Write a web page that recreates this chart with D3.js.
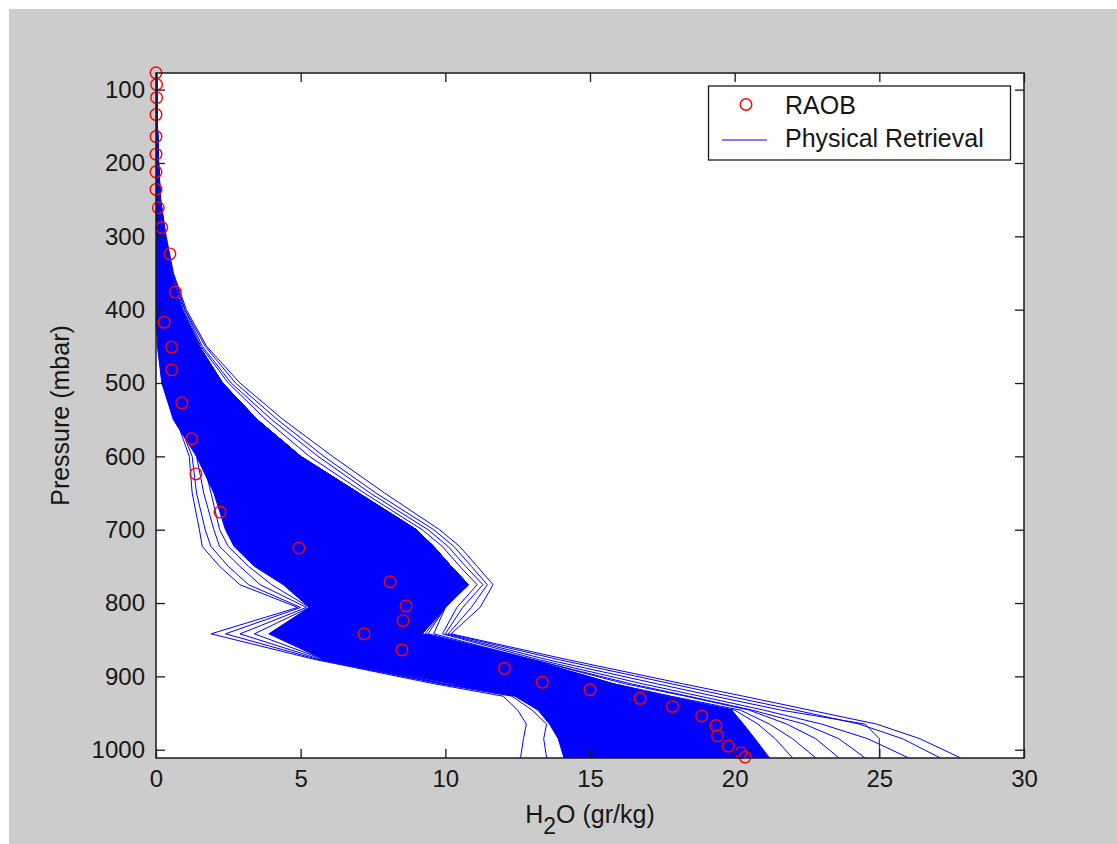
<!DOCTYPE html>
<html>
<head>
<meta charset="utf-8">
<script src="https://cdn.jsdelivr.net/npm/d3@7"></script>
<style>
  body { margin: 0; background: #ffffff; }
  text { font-family: 'Liberation Sans', Arial, sans-serif; fill: #161616; }
</style>
</head>
<body>
<div id="container"></div>
<script>
// pressure levels (mbar) that the retrieved profiles are read on
var levels = [77, 100, 150, 200, 250, 300, 350, 400, 450, 500, 550, 600, 650, 700,
    723, 750, 775, 806, 842, 877, 910, 927, 946, 965, 985, 1011]

// dense part of the retrieval ensemble: left and right edge (gr/kg) at each level
var coreLeft = [0, 0, 0, 0, 0, 0, 0, 0, 0.05, 0.2, 0.6, 1.4, 2.0, 2.4,
    2.7, 3.4, 4.4, 5.3, 3.9, 5.8, 10.2, 12.4, 13.2, 13.6, 13.9, 14.1]
var coreRight = [0.02, 0.03, 0.05, 0.08, 0.14, 0.3, 0.5, 0.9, 1.5, 2.3, 3.5, 5.0, 7.0, 9.0,
    9.6, 10.2, 10.8, 10.0, 9.2, 12.9, 15.8, 17.6, 19.9, 20.3, 20.7, 21.2]

// single retrieval profiles that stand out of the dense band
var retrievals = [
    [0, 0, 0, 0, 0.02, 0.05, 0.08, 0.12, 0.2, 0.35, 0.7, 1.15, 1.25, 1.5, 1.6, 2.2, 2.9, 4.9, 1.9, 5.5, 9.6, 12.0, 12.5, 12.8, 12.7, 12.6],
    [0, 0, 0, 0, 0.02, 0.05, 0.08, 0.12, 0.22, 0.4, 0.75, 1.25, 1.4, 1.7, 1.9, 2.5, 3.2, 5.0, 2.4, 5.6, 9.8, 12.3, 13.0, 13.5, 13.4, 13.5],
    [0, 0, 0, 0, 0.03, 0.06, 0.1, 0.15, 0.25, 0.45, 0.85, 1.4, 1.65, 2.0, 2.2, 2.9, 3.6, 5.2, 2.9, 5.7, 9.9, 12.5, 13.3, 13.8, 14.0, 14.1],
    [0, 0, 0, 0, 0.03, 0.06, 0.1, 0.16, 0.28, 0.5, 0.95, 1.6, 1.9, 2.2, 2.5, 3.2, 4.0, 5.3, 3.4, 5.8, 10.0, 12.5, 13.3, 13.7, 14.0, 14.2],
    [0.02, 0.03, 0.05, 0.09, 0.16, 0.35, 0.6, 1.05, 1.75, 2.9, 4.4, 6.1, 7.9, 9.8, 10.5, 11.1, 11.65, 11.2, 10.2, 14.2, 18.2, 20.3, 22.6, 24.9, 26.4, 27.8],
    [0.02, 0.03, 0.05, 0.09, 0.16, 0.34, 0.58, 1.0, 1.7, 2.75, 4.2, 5.8, 7.6, 9.6, 10.3, 10.9, 11.45, 10.9, 10.1, 13.9, 17.8, 19.8, 22.1, 24.3, 25.8, 27.1],
    [0.02, 0.03, 0.05, 0.09, 0.15, 0.33, 0.56, 1.0, 1.6, 2.6, 4.0, 5.6, 7.4, 9.4, 10.1, 10.7, 11.3, 10.6, 10.0, 13.5, 17.3, 19.3, 21.6, 24.5, 25.0, 25.0],
    [0.02, 0.03, 0.05, 0.09, 0.15, 0.32, 0.54, 0.95, 1.55, 2.5, 3.8, 5.3, 7.2, 9.2, 9.9, 10.5, 11.1, 10.4, 9.9, 13.2, 16.8, 18.8, 21.0, 23.0, 24.6, 26.0],
    [0.02, 0.03, 0.05, 0.08, 0.14, 0.3, 0.5, 0.9, 1.5, 2.3, 3.5, 5.0, 7.0, 9.0, 9.6, 10.2, 10.8, 10.0, 9.6, 13.0, 16.4, 18.4, 20.6, 22.4, 23.6, 24.5],
    [0.02, 0.03, 0.05, 0.08, 0.14, 0.3, 0.5, 0.9, 1.5, 2.3, 3.5, 5.0, 7.0, 9.0, 9.6, 10.2, 10.8, 10.0, 9.4, 13.0, 16.2, 18.3, 20.5, 21.8, 22.8, 23.6],
    [0.02, 0.03, 0.05, 0.08, 0.14, 0.3, 0.5, 0.9, 1.5, 2.3, 3.5, 5.0, 7.0, 9.0, 9.6, 10.2, 10.8, 10.0, 9.3, 12.9, 15.8, 17.8, 20.2, 21.2, 22.0, 22.8],
    [0.02, 0.03, 0.05, 0.08, 0.14, 0.3, 0.5, 0.9, 1.5, 2.3, 3.5, 5.0, 7.0, 9.0, 9.6, 10.2, 10.8, 10.0, 9.2, 12.9, 15.8, 17.7, 20.0, 20.8, 21.4, 22.0]
]

// RAOB radiosonde profile
var raobP = [77, 93, 111, 134, 164, 188, 212, 236, 261, 288, 324, 376, 417, 451, 482, 527,
    576, 624, 676, 725, 771, 804, 824, 842, 864, 889, 908, 918, 930, 941, 954, 967, 981, 995, 1004, 1010]
var raobQ = [0, 0.02, 0.02, 0, 0, 0, 0, 0, 0.08, 0.2, 0.48, 0.67, 0.28, 0.54, 0.54, 0.89,
    1.23, 1.38, 2.21, 4.94, 8.09, 8.64, 8.54, 7.19, 8.5, 12.04, 13.35, 15.0, 16.73, 17.85, 18.86, 19.35, 19.41, 19.78, 20.21, 20.36]

var xTicks = [0, 5, 10, 15, 20, 25, 30]
var yTicks = [100, 200, 300, 400, 500, 600, 700, 800, 900, 1000]

var W = 1117, H = 844
var margin = { top: 73, right: 93, bottom: 86, left: 156 }

var svg = d3.select('#container')
    .append('svg')
    .attr('width', W)
    .attr('height', H)

// figure background (MATLAB grey)
svg.append('rect')
    .attr('x', 9).attr('y', 9)
    .attr('width', W - 9).attr('height', H - 9)
    .style('fill', '#cccccc')

var x = d3.scaleLinear().domain([0, 30]).range([margin.left, W - margin.right])
var y = d3.scaleLinear().domain([77.3, 1011.3]).range([margin.top, H - margin.bottom])

svg.append('rect')
    .attr('x', x(0)).attr('y', y.range()[0])
    .attr('width', x(30) - x(0)).attr('height', y.range()[1] - y.range()[0])
    .style('fill', '#ffffff')

svg.append('clipPath').attr('id', 'plotClip')
    .append('rect')
    .attr('x', x(0)).attr('y', y.range()[0])
    .attr('width', x(30) - x(0)).attr('height', y.range()[1] - y.range()[0])

var plot = svg.append('g').attr('clip-path', 'url(#plotClip)')

// dense band of the ensemble
var band = d3.area()
    .x0(function(d, i) { return x(coreLeft[i]) })
    .x1(function(d, i) { return x(coreRight[i]) })
    .y(function(d) { return y(d) })

plot.append('path')
    .datum(levels)
    .attr('d', band)
    .style('fill', '#0000ff')
    .style('stroke', '#0000ff')
    .style('stroke-width', 1)

var line = d3.line()
    .x(function(d) { return x(d[0]) })
    .y(function(d) { return y(d[1]) })

plot.selectAll('.retrieval')
    .data(retrievals)
    .enter()
    .append('path')
    .attr('class', 'retrieval')
    .attr('d', function(prof) {
        return line(prof.map(function(q, i) { return [q, levels[i]] }))
    })
    .style('fill', 'none')
    .style('stroke', '#0000ff')
    .style('stroke-width', 1)

// RAOB circles (markers are not clipped)
svg.selectAll('.raob')
    .data(raobP)
    .enter()
    .append('circle')
    .attr('class', 'raob')
    .attr('cx', function(d, i) { return x(raobQ[i]) })
    .attr('cy', function(d) { return y(d) })
    .attr('r', 5.8)
    .style('fill', 'none')
    .style('stroke', '#ff0000')
    .style('stroke-width', 1.4)

// axes, ticks pointing inward
function styleAxis(g) {
    g.select('.domain').remove()
    g.selectAll('line').style('stroke', '#1a1a1a').style('stroke-width', 1.3)
    g.selectAll('text').style('font-size', '24px').style('fill', '#161616')
}

svg.append('g')
    .attr('transform', 'translate(0,' + y.range()[1] + ')')
    .call(d3.axisBottom(x).tickValues(xTicks).tickSize(-9).tickPadding(12).tickFormat(d3.format('d')))
    .call(styleAxis)
svg.append('g')
    .attr('transform', 'translate(0,' + y.range()[0] + ')')
    .call(d3.axisTop(x).tickValues(xTicks).tickSize(-9).tickFormat(''))
    .call(styleAxis)
svg.append('g')
    .attr('transform', 'translate(' + x(0) + ',0)')
    .call(d3.axisLeft(y).tickValues(yTicks).tickSize(-9).tickPadding(11).tickFormat(d3.format('d')))
    .call(styleAxis)
svg.append('g')
    .attr('transform', 'translate(' + x(30) + ',0)')
    .call(d3.axisRight(y).tickValues(yTicks).tickSize(-9).tickFormat(''))
    .call(styleAxis)

svg.append('rect')
    .attr('x', x(0)).attr('y', y.range()[0])
    .attr('width', x(30) - x(0)).attr('height', y.range()[1] - y.range()[0])
    .style('fill', 'none')
    .style('stroke', '#1a1a1a')
    .style('stroke-width', 1.5)

// axis titles
var xl = svg.append('text')
    .attr('x', (x(0) + x(30)) / 2)
    .attr('y', 823)
    .attr('text-anchor', 'middle')
    .style('font-size', '25px')
xl.append('tspan').text('H')
xl.append('tspan').text('2').attr('dy', 11).style('font-size', '23px')
xl.append('tspan').text('O (gr/kg)').attr('dy', -11)

svg.append('text')
    .attr('transform', 'translate(69,' + (y.range()[0] + y.range()[1]) / 2 + ') rotate(-90)')
    .attr('text-anchor', 'middle')
    .style('font-size', '25px')
    .text('Pressure (mbar)')

// legend
var legend = svg.append('g')
legend.append('rect')
    .attr('x', 708.5).attr('y', 86)
    .attr('width', 302).attr('height', 74)
    .style('fill', '#ffffff')
    .style('stroke', '#1a1a1a')
    .style('stroke-width', 1.3)
legend.append('circle')
    .attr('cx', 746).attr('cy', 104.5).attr('r', 5.8)
    .style('fill', 'none').style('stroke', '#ff0000').style('stroke-width', 1.4)
legend.append('text').attr('x', 785).attr('y', 114).style('font-size', '25px').text('RAOB')
legend.append('line')
    .attr('x1', 722).attr('x2', 767).attr('y1', 140).attr('y2', 140)
    .style('stroke', '#0000ff').style('stroke-width', 1.2)
legend.append('text').attr('x', 785).attr('y', 147).style('font-size', '25px').text('Physical Retrieval')
</script>
</body>
</html>
